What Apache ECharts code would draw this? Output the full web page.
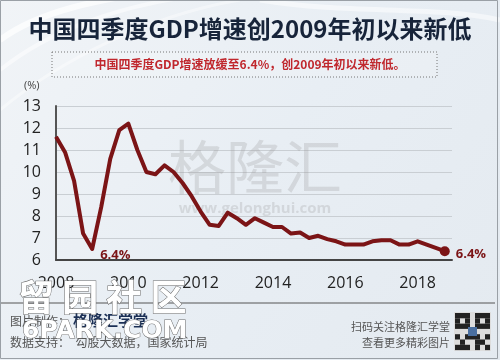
<!DOCTYPE html>
<html><head><meta charset="utf-8">
<script src="https://cdn.jsdelivr.net/npm/echarts@6/dist/echarts.min.js"></script>
<style>html,body{margin:0;padding:0;background:#e7edf3}#c{width:500px;height:360px}</style>
</head><body><div id="c"></div>
<script>
var quarters = ['2008Q1','2008Q2','2008Q3','2008Q4','2009Q1','2009Q2','2009Q3','2009Q4',
 '2010Q1','2010Q2','2010Q3','2010Q4','2011Q1','2011Q2','2011Q3','2011Q4',
 '2012Q1','2012Q2','2012Q3','2012Q4','2013Q1','2013Q2','2013Q3','2013Q4',
 '2014Q1','2014Q2','2014Q3','2014Q4','2015Q1','2015Q2','2015Q3','2015Q4',
 '2016Q1','2016Q2','2016Q3','2016Q4','2017Q1','2017Q2','2017Q3','2017Q4',
 '2018Q1','2018Q2','2018Q3','2018Q4'];
var gdpGrowth = [11.6,10.9,9.6,7.2, 6.5,8.4,10.6,11.9,
 12.2,11.0,10.0,9.9, 10.3,10.0,9.5,8.9,
 8.2,7.6,7.55,8.15, 7.9,7.6,7.9,7.7,
 7.5,7.5,7.2,7.25, 7.0,7.1,6.95,6.85,
 6.7,6.7,6.7,6.85, 6.9,6.9,6.7,6.7,
 6.85,6.7,6.55,6.4];
var xTickLabels = ['2008','2010','2012','2014','2016','2018'];
var yTickLabels = ['6','7','8','9','10','11','12','13'];
var labelled = {4:'6.4%', 43:'6.4%'};

var dark = '#7b1416';
var data = quarters.map(function(q,i){
  var x = parseInt(q.slice(0,4),10) + (parseInt(q.slice(5),10)-1)/4;
  var item = {value:[x, gdpGrowth[i]]};
  if (labelled[i]) {
    item.label = {show:true, formatter: labelled[i], position:'right',
      offset: i===4 ? [3,6] : [1,3],
      color: dark, fontWeight:'bold', fontSize:13, fontFamily:'Open Sans, Noto Sans, sans-serif'};
  }
  return item;
});
var lastIdx = quarters.length-1;

var chart = echarts.init(document.getElementById('c'), null, {renderer:'canvas'});
var qr = [];
var qrPattern = ['1110111','1010101','1110111','0001000','1011101','0100110','1110101'];
qrPattern.forEach(function(row, r){
  row.split('').forEach(function(c, k){
    if (c==='1') qr.push({type:'rect', shape:{x:455+k*5, y:313+r*5.3, width:5, height:5.3}, style:{fill:'#222'}});
  });
});
qr.push({type:'rect', shape:{x:468, y:327, width:9, height:9}, style:{fill:'#4a6fa0'}});

chart.setOption({
  backgroundColor: {type:'linear', x:0, y:0, x2:1, y2:1, colorStops:[{offset:0,color:'#f1f4f7'},{offset:0.5,color:'#e8eef4'},{offset:1,color:'#e4eaf0'}]},
  animation:false,
  grid:{left:56, right:48, top:106, bottom:100},
  xAxis:{type:'value', min:2008, max:2018.95, interval:2,
    axisLine:{show:true, lineStyle:{color:'#444', width:2}},
    axisTick:{show:false},
    splitLine:{show:false},
    axisLabel:{color:'#222', fontSize:16, margin:15, fontFamily:'Open Sans, Noto Sans, sans-serif',
      formatter:function(v){ var s=String(Math.round(v)); return (Math.abs(v-Math.round(v))<1e-6 && xTickLabels.indexOf(s)>=0)?s:''; }}
  },
  yAxis:{type:'value', min:6, max:13, interval:1,
    axisLine:{show:true, lineStyle:{color:'#555', width:2}},
    axisTick:{show:false},
    splitLine:{show:true, lineStyle:{color:'#c9ced3', width:1}},
    axisLabel:{color:'#222', fontSize:16, margin:15, fontFamily:'Open Sans, Noto Sans, sans-serif',
      formatter:function(v){ var s=String(v); return yTickLabels.indexOf(s)>=0?s:''; }}
  },
  series:[{
    type:'line', data:data, showSymbol:true, showAllSymbol:true, symbol:'circle',
    symbolSize:function(v, p){ return p.dataIndex===lastIdx ? 10 : 0; },
    itemStyle:{color:dark},
    lineStyle:{color:dark, width:4, join:'round'},
    label:{show:false},
    z:5
  }],
  graphic:[
    {type:'bezierCurve', shape:{x1:0,y1:40,x2:160,y2:-10,cpx1:40,cpy1:10,cpx2:100,cpy2:0}, style:{stroke:'rgba(255,255,255,0.7)', lineWidth:6, fill:null}, z:-1},
    {type:'bezierCurve', shape:{x1:0,y1:70,x2:200,y2:-5,cpx1:50,cpy1:30,cpx2:120,cpy2:5}, style:{stroke:'rgba(255,255,255,0.5)', lineWidth:4, fill:null}, z:-1},
    {type:'bezierCurve', shape:{x1:0,y1:110,x2:240,y2:0,cpx1:60,cpy1:60,cpx2:150,cpy2:15}, style:{stroke:'rgba(255,255,255,0.4)', lineWidth:3, fill:null}, z:-1},
    {type:'bezierCurve', shape:{x1:260,y1:0,x2:500,y2:20,cpx1:350,cpy1:15,cpx2:430,cpy2:5}, style:{stroke:'rgba(255,255,255,0.5)', lineWidth:5, fill:null}, z:-1},
    {type:'rect', shape:{x:0.5,y:0.5,width:497,height:358}, style:{fill:null, stroke:'#9aa0a6', lineWidth:1}, z:10},
    {type:'text', left:'center', top:17, style:{text:'中国四季度GDP增速创2009年初以来新低', fill:'#17243a', font:'bold 24px "Noto Sans CJK SC", sans-serif'}},
    {type:'rect', shape:{x:52,y:52,width:385,height:25}, style:{fill:'rgba(255,255,255,0.15)', stroke:'#777', lineWidth:1, lineDash:[1,2]}},
    {type:'text', x:250, y:64.5, style:{text:'中国四季度GDP增速放缓至6.4%，创2009年初以来新低。', fill:'#c0272d', font:'bold 12px "Noto Sans CJK SC", sans-serif', textAlign:'center', textVerticalAlign:'middle'}},
    {type:'text', x:24, y:86, style:{text:'(%)', fill:'#444', font:'11px "Open Sans", sans-serif', textVerticalAlign:'middle'}},
    {type:'text', x:255, y:167, style:{text:'格隆汇', fill:'rgba(150,150,150,0.26)', font:'58px "Noto Sans CJK SC", sans-serif', textAlign:'center', textVerticalAlign:'middle'}, z:1},
    {type:'text', x:255, y:209, style:{text:'www.gelonghui.com', fill:'rgba(150,150,150,0.26)', font:'bold 15px "Open Sans", sans-serif', textAlign:'center', textVerticalAlign:'middle'}, z:1},
    {type:'line', shape:{x1:0,y1:303,x2:495,y2:303}, style:{stroke:'#555', lineWidth:1}},
    {type:'text', x:10, y:321, style:{text:'图片制作：', fill:'#555', font:'12px "Noto Sans CJK SC", sans-serif', textVerticalAlign:'middle'}},
    {type:'text', x:73, y:320, style:{text:'格隆汇学堂', fill:'#1b2f55', font:'bold 15px "Noto Sans CJK SC", sans-serif', textVerticalAlign:'middle'}},
    {type:'text', x:10, y:342, style:{text:'数据支持：  勾股大数据，国家统计局', fill:'#555', font:'12px "Noto Sans CJK SC", sans-serif', textVerticalAlign:'middle'}},
    {type:'text', x:450, y:327, style:{text:'扫码关注格隆汇学堂', fill:'#555', font:'11px "Noto Sans CJK SC", sans-serif', textAlign:'right', textVerticalAlign:'middle'}},
    {type:'text', x:450, y:343, style:{text:'查看更多精彩图片', fill:'#555', font:'11px "Noto Sans CJK SC", sans-serif', textAlign:'right', textVerticalAlign:'middle'}},
    {type:'rect', shape:{x:454,y:312,width:37,height:39}, style:{fill:'#ddd'}},
    {type:'group', children:qr},
    {type:'text', x:18, y:297, style:{text:'留 园 社 区', fill:'#ffffff', stroke:'#6a6a6a', lineWidth:1, font:'bold 36px "Noto Sans CJK SC", sans-serif', textVerticalAlign:'middle'}, z:20},
    {type:'text', x:22, y:331, style:{text:'6PARK.COM', fill:'#ffffff', stroke:'#6a6a6a', lineWidth:1, font:'bold 25px "DejaVu Sans", sans-serif', textVerticalAlign:'middle'}, z:20}
  ]
});
</script></body></html>
